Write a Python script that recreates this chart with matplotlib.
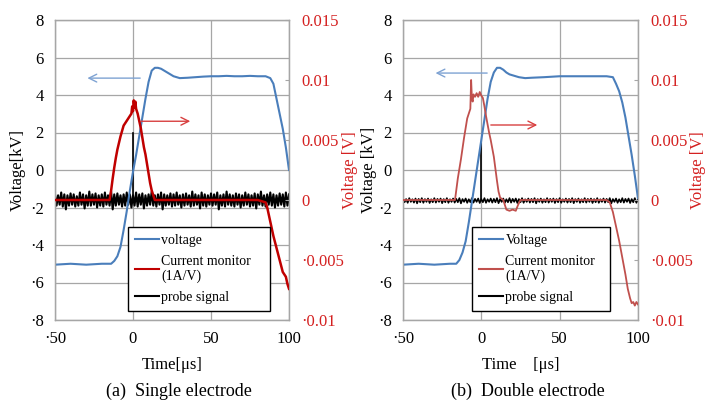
import numpy as np
import matplotlib
matplotlib.use('Agg')
import matplotlib.pyplot as plt
from matplotlib.lines import Line2D

plt.rcParams['font.family'] = ['Liberation Serif', 'Noto Sans CJK JP', 'DejaVu Serif']

# --- voltage [kV], single electrode
volt_a_t = [-50, -40, -30, -20, -14, -12, -10, -8, -6, -4, -2, 0, 2, 4, 6, 8, 10, 12, 14, 16,
            18, 20, 22, 24, 26, 28, 30, 35, 40, 45, 50, 55, 60, 65, 70, 75, 80, 85, 88, 90,
            92, 94, 96, 98, 100]
volt_a = [-5.05, -5.0, -5.05, -5.0, -5.0, -4.85, -4.6, -4.1, -3.2, -2.2, -1.1, -0.1, 0.8, 1.8, 2.8, 3.8, 4.7, 5.3, 5.45, 5.45,
          5.4, 5.3, 5.2, 5.1, 5.0, 4.95, 4.9, 4.92, 4.95, 4.98, 5.0, 5.0, 5.02, 5.0, 5.0, 5.02, 5.0, 5.0, 4.9, 4.6,
          3.8, 3.0, 2.2, 1.2, 0.0]

# --- voltage [kV], double electrode
volt_b_t = [-50, -40, -30, -20, -16, -14, -12, -10, -8, -6, -4, -2, 0, 2, 4, 6, 8, 10, 12, 14,
            16, 18, 20, 24, 28, 32, 40, 50, 60, 70, 80, 84, 86, 88, 90, 92, 94, 96, 98, 100]
volt_b = [-5.05, -5.0, -5.05, -5.0, -5.0, -4.8, -4.4, -3.8, -2.8, -1.7, -0.6, 0.5, 1.6, 2.7, 3.8, 4.7, 5.2, 5.45, 5.45, 5.35,
          5.2, 5.1, 5.05, 4.95, 4.9, 4.92, 4.95, 5.0, 5.0, 5.0, 5.0, 4.95, 4.6, 4.2, 3.6, 2.8, 1.8, 0.8, -0.3, -1.5]

# --- current monitor [V], single electrode
curr_a_t = [-50, -20, -15, -14, -13, -12, -11, -10, -8, -6, -4, -3, -2, -1, -0.5, 0, 0.5, 1, 1.5, 2,
            3, 4, 5, 6, 7, 8, 9, 10, 11, 12, 13, 14, 20, 40, 60, 80, 85, 86, 88, 90,
            92, 94, 96, 98, 99, 100]
curr_a = [0, 0, 0, 0.0008, 0.0018, 0.0027, 0.0035, 0.0042, 0.0053, 0.0062, 0.0066, 0.0068, 0.0070, 0.0072, 0.0078, 0.0074, 0.0083, 0.0077, 0.0082, 0.0076,
          0.0072, 0.0066, 0.0060, 0.0052, 0.0044, 0.0038, 0.0030, 0.0022, 0.0014, 0.0008, 0.0004, 0.0, 0, 0, 0, 0, -0.0002, -0.0006, -0.0018, -0.0030,
          -0.0040, -0.0050, -0.0060, -0.0064, -0.0070, -0.0074]

# --- current monitor [V], double electrode
curr_b_t = [-50, -18, -16.8, -15, -13, -11, -9, -8, -7, -6.5, -6, -5.5, -5, -4, -3, -2, -1, 0, 1, 2,
            3, 4, 5, 6, 7, 8, 9, 10, 11, 12, 14, 15, 16, 18, 20, 22, 23.5, 25, 40, 60,
            80, 82, 84, 86, 88, 90, 92, 93.5, 95, 96, 97, 98, 99, 100]
curr_b = [0, 0, 0, 0.0018, 0.0034, 0.0052, 0.0068, 0.0072, 0.0076, 0.0100, 0.0084, 0.0082, 0.0088, 0.0086, 0.0089, 0.0086, 0.0090, 0.0087, 0.0085, 0.0078,
          0.0070, 0.0063, 0.0056, 0.0050, 0.0043, 0.0036, 0.0026, 0.0016, 0.0007, 0.0002, 0.0, -0.0004, -0.0008, -0.0009, -0.0008, -0.0009, -0.0004, 0, 0, 0,
          0, -0.0002, -0.0010, -0.0022, -0.0034, -0.0048, -0.0062, -0.0074, -0.0082, -0.0086, -0.0085, -0.0088, -0.0085, -0.0087]

# --- probe signal [kV], sampled every 1 us from -50 to 100
probe_t = np.arange(-50, 101)
probe_a = [-1.3, -1.9, -1.35, -1.85, -1.2, -1.95, -1.3, -2.1, -1.35, -1.9,
           -1.25, -1.85, -1.3, -1.95, -1.4, -1.9, -1.2, -1.85, -1.3, -2.05,
           -1.35, -1.9, -1.15, -1.9, -1.3, -1.85, -1.25, -2.0, -1.35, -1.9,
           -1.3, -1.95, -1.2, -1.85, -1.35, -1.9, -1.15, -2.1, -1.3, -1.9,
           -1.25, -1.85, -1.35, -1.95, -1.3, -1.9, -1.2, -1.85, -1.3, -2.0,
           -1.35, -1.9, -1.2, -1.95, -1.3, -1.85, -1.25, -2.05, -1.35, -1.9,
           -1.3, -1.85, -1.15, -1.9, -1.35, -1.95, -1.3, -1.85, -1.2, -2.1,
           -1.3, -1.9, -1.35, -1.85, -1.25, -1.95, -1.3, -1.9, -1.2, -1.85,
           -1.35, -2.0, -1.3, -1.9, -1.25, -1.85, -1.35, -1.95, -1.15, -1.9,
           -1.3, -1.85, -1.35, -2.05, -1.2, -1.9, -1.3, -1.95, -1.35, -1.85,
           -1.25, -1.9, -1.3, -1.85, -1.2, -2.1, -1.35, -1.9, -1.3, -1.95,
           -1.15, -1.85, -1.3, -1.9, -1.35, -1.95, -1.25, -1.85, -1.3, -2.0,
           -1.35, -1.9, -1.2, -1.85, -1.3, -1.95, -1.35, -1.9, -1.25, -2.05,
           -1.3, -1.85, -1.15, -1.9, -1.35, -1.95, -1.3, -1.85, -1.2, -1.9,
           -1.3, -2.0, -1.35, -1.9, -1.25, -1.85, -1.3, -1.95, -1.2, -1.9,
           -1.3]
probe_b = [-1.52, -1.72, -1.55, -1.75, -1.5, -1.7, -1.56, -1.74, -1.52, -1.78,
           -1.54, -1.72, -1.5, -1.75, -1.55, -1.7, -1.52, -1.76, -1.56, -1.72,
           -1.5, -1.74, -1.54, -1.7, -1.52, -1.77, -1.55, -1.72, -1.5, -1.75,
           -1.56, -1.7, -1.52, -1.74, -1.54, -1.72, -1.5, -1.78, -1.55, -1.7,
           -1.52, -1.75, -1.56, -1.72, -1.5, -1.74, -1.54, -1.7, -1.52, -1.76,
           -1.55, -1.72, -1.5, -1.75, -1.56, -1.7, -1.52, -1.74, -1.54, -1.72,
           -1.5, -1.77, -1.55, -1.7, -1.52, -1.75, -1.56, -1.72, -1.5, -1.74,
           -1.54, -1.7, -1.52, -1.76, -1.55, -1.72, -1.5, -1.75, -1.56, -1.7,
           -1.52, -1.74, -1.54, -1.72, -1.5, -1.78, -1.55, -1.7, -1.52, -1.75,
           -1.56, -1.72, -1.5, -1.74, -1.54, -1.7, -1.52, -1.76, -1.55, -1.72,
           -1.5, -1.75, -1.56, -1.7, -1.52, -1.74, -1.54, -1.72, -1.5, -1.77,
           -1.55, -1.7, -1.52, -1.75, -1.56, -1.72, -1.5, -1.74, -1.54, -1.7,
           -1.52, -1.76, -1.55, -1.72, -1.5, -1.75, -1.56, -1.7, -1.52, -1.74,
           -1.54, -1.72, -1.5, -1.78, -1.55, -1.7, -1.52, -1.75, -1.56, -1.72,
           -1.5, -1.74, -1.54, -1.7, -1.52, -1.76, -1.55, -1.72, -1.5, -1.75,
           -1.56]
# probe spike at t = 0
spike_a = [-1.6, 2.0]
spike_b = [-1.6, 1.45]

# ticks
x_ticks = [-50, 0, 50, 100]
x_labels = ['·50', '0', '50', '100']
kv_ticks = [-8, -6, -4, -2, 0, 2, 4, 6, 8]
kv_labels = ['·8', '·6', '·4', '·2', '0', '2', '4', '6', '8']
v_ticks = [-0.01, -0.005, 0, 0.005, 0.01, 0.015]
v_labels = ['·0.01', '·0.005', '0', '0.005', '0.01', '0.015']

BLUE = '#4a7ebb'
RED_A = '#c00000'
RED_B = '#c0504d'
RED_TXT = '#d42020'
GRID = '#a6a6a6'

fig = plt.figure(figsize=(7.12, 4.0), dpi=100)

panels = [
    dict(pos=[0.0772, 0.2, 0.3287, 0.75], vt=volt_a_t, v=volt_a, ct=curr_a_t, c=curr_a, p=probe_a,
         sp=spike_a, red=RED_A, red_lw=1.8, vlabel='voltage', xl='Time[μs]', yl='Voltage[kV]',
         cap='(a)  Single electrode', blue_arr=((6.4, 4.9), (-31, 4.9)), red_arr=((3.5, 2.6), (38.5, 2.6)),
         leg=(0.312, 0.03, 0.607, 0.273), probe_lw=1.5, ylx=-0.125, y2lx=1.225),
    dict(pos=[0.566, 0.2, 0.330, 0.75], vt=volt_b_t, v=volt_b, ct=curr_b_t, c=curr_b, p=probe_b,
         sp=spike_b, red=RED_B, red_lw=1.3, vlabel='Voltage', xl='Time\u3000[μs]', yl='Voltage [kV]',
         cap='(b)  Double electrode', blue_arr=((5.5, 5.17), (-31, 5.17)), red_arr=((4.3, 2.4), (37.5, 2.4)),
         leg=(0.294, 0.03, 0.587, 0.30), probe_lw=1.2, ylx=-0.11, y2lx=1.22),
]

for pn in panels:
    ax = fig.add_axes(pn['pos'])
    ax2 = ax.twinx()

    ax.plot(probe_t, pn['p'], color='black', lw=pn['probe_lw'], zorder=2)
    ax.plot([0, 0], pn['sp'], color='black', lw=1.2, zorder=2)
    ax.plot(pn['vt'], pn['v'], color=BLUE, lw=1.5, zorder=3)
    ax2.plot(pn['ct'], pn['c'], color=pn['red'], lw=pn['red_lw'], zorder=3)

    ax.set_xlim(-50, 100)
    ax.set_ylim(-8, 8)
    ax2.set_ylim(-0.01, 0.015)

    ax.set_xticks(x_ticks)
    ax.set_xticklabels(x_labels, fontsize=12)
    ax.set_yticks(kv_ticks)
    ax.set_yticklabels(kv_labels, fontsize=12)
    ax2.set_yticks(v_ticks)
    ax2.set_yticklabels(v_labels, fontsize=12, color=RED_TXT)

    ax.grid(True, color=GRID, lw=0.9)
    ax.tick_params(axis='both', length=0, pad=8)
    ax2.tick_params(axis='y', direction='in', length=3, color=GRID, pad=9)
    for a in (ax, ax2):
        for s in a.spines.values():
            s.set_color(GRID)
            s.set_linewidth(0.9)

    ax.set_xlabel(pn['xl'], fontsize=12, labelpad=7)
    ax.set_ylabel(pn['yl'], fontsize=12)
    ax.yaxis.set_label_coords(pn['ylx'], 0.5)
    ax2.set_ylabel('Voltage [V]', fontsize=12, color=RED_TXT)
    ax2.yaxis.set_label_coords(pn['y2lx'], 0.5)

    ax.annotate('', xy=pn['blue_arr'][1], xytext=pn['blue_arr'][0],
                arrowprops=dict(arrowstyle='->', color='#7fa3d3', lw=1.0, mutation_scale=14))
    ax.annotate('', xy=pn['red_arr'][1], xytext=pn['red_arr'][0],
                arrowprops=dict(arrowstyle='->', color='#d84040', lw=1.0, mutation_scale=14))

    handles = [Line2D([], [], color=BLUE, lw=1.5),
               Line2D([], [], color=pn['red'], lw=1.5),
               Line2D([], [], color='black', lw=1.5)]
    leg = ax2.legend(handles, [pn['vlabel'], 'Current monitor\n(1A/V)', 'probe signal'],
                     loc='lower left', bbox_to_anchor=pn['leg'], mode='expand',
                     fontsize=10, frameon=True, fancybox=False, framealpha=1,
                     edgecolor='black', handlelength=1.7, handletextpad=0.2,
                     labelspacing=0.55, borderpad=0.5, borderaxespad=0)
    leg.get_frame().set_linewidth(1.0)
    leg.set_zorder(10)

    cx = pn['pos'][0] + pn['pos'][2] / 2
    fig.text(cx + 0.01, 0.022, pn['cap'], ha='center', va='center', fontsize=13)

fig.savefig('out.png', dpi=100)
